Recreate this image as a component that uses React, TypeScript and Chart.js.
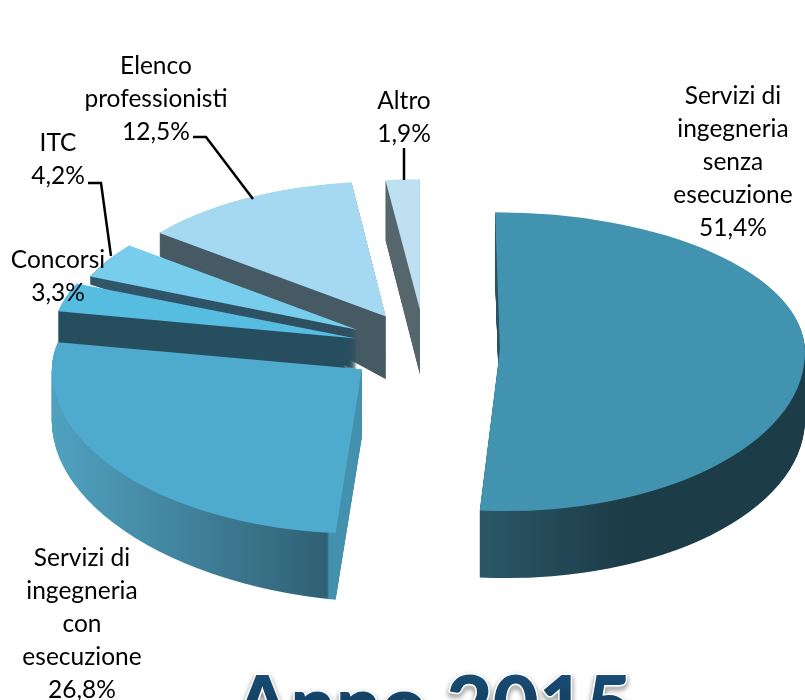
import React, { useEffect, useRef } from "react";
import { Chart, registerables } from "chart.js";

Chart.register(...registerables);

const categories: string[][] = [
  ["Servizi di", "ingegneria", "senza", "esecuzione"],
  ["Servizi di", "ingegneria", "con", "esecuzione"],
  ["Concorsi"],
  ["ITC"],
  ["Elenco", "professionisti"],
  ["Altro"],
];
const shares = [51.4, 26.8, 3.3, 4.2, 12.5, 1.9];
const titleText = "Anno 2015";

const topColors = ["#4293AF", "#4EABCD", "#56BCE0", "#77CDEB", "#A4D9F1", "#BEE0F1"];
// Explosion of each slice, radial pixels on the unsquashed pie.
const explode = [75, 79, 72, 79, 80, 85];
// Radius that each slice is shown at.
const sliceRadius = [305, 310, 304, 290, 288, 290];
// Perspective: far half and near half of the pie are flattened differently.
const squashFar = [0.45, 0.45, 0.46, 0.47, 0.47, 0.45];
const squashNear = 0.53;
const squashApex = 0.45;
// Horizontal lean of each slice, as the camera sees it.
const lean = [0.035, 0, 0, 0, 0, 0];
// Thickness [x0, depth0, x1, depth1] of each slice: it tapers with perspective.
const thickness = [
  [480, 67, 800, 67],
  [50, 52, 362, 68],
  [60, 32, 352, 32],
  [90, 8, 360, 40],
  [163, 24, 388, 63],
  [387, 60, 420, 65],
];
const sideStops: [number, string][][] = [
  [[478, "#2B5666"], [620, "#1C3C47"], [805, "#1C3C47"]],
  [[50, "#50A2C1"], [200, "#3F7F98"], [327, "#306073"], [329, "#4490AF"], [365, "#4490AF"]],
  [[60, "#264E5F"], [358, "#264E5F"]],
  [[90, "#31576A"], [360, "#2C4E60"]],
  [[163, "#455A63"], [388, "#455A63"]],
  [[387, "#55666C"], [420, "#55666C"]],
];
const drawOrder = [5, 4, 3, 2, 1, 0];

const labelFont = '24.5px "Lato"';
const lineHeight = 33;
// Label block: centre x and middle of the first line.
const labelAnchors = [
  [733, 96],
  [82, 558],
  [58, 260],
  [58, 143],
  [156, 66],
  [404, 101],
];
const leaderLines = [
  [[88, 183], [101, 183], [111, 256]],
  [[193, 137], [206, 137], [253, 199]],
  [[404, 148], [404, 180]],
];

const formatShare = (v: number) => v.toFixed(1).replace(".", ",") + "%";

const piePlugin = {
  id: "pie3d",
  beforeDatasetsDraw(chart: any) {
    const ctx: CanvasRenderingContext2D = chart.ctx;
    const arcs = chart.getDatasetMeta(0).data;
    for (const i of drawOrder) {
      const arc = arcs[i];
      const base = arc.options;
      const mid = (arc.startAngle + arc.endAngle) / 2;
      const d = base.offset || 0;
      const ax = arc.x + Math.cos(mid) * d;
      const py = arc.y + Math.sin(mid) * d * squashApex;
      const sx = sliceRadius[i] / arc.outerRadius;

      const place = (t: number, a: number, b: number, k: number, far: boolean) => {
        ctx.save();
        ctx.transform(1, t * b, 0, 1, 0, t * a);
        ctx.transform(1, 0, lean[i], 1, -lean[i] * py, 0);
        ctx.transform(sx, 0, 0, sx * k, ax - sx * arc.x, py - sx * k * arc.y);
        ctx.beginPath();
        if (far) ctx.rect(-3000, arc.y - 3000, 6000, 3004);
        else ctx.rect(-3000, arc.y, 6000, 3000);
        ctx.clip();
        arc.draw(ctx);
        ctx.restore();
      };

      // Side walls
      const [x0, d0, x1, d1] = thickness[i];
      const b = (d1 - d0) / (x1 - x0);
      const a = d0 - b * x0;
      const stops = sideStops[i];
      const toLocal = (X: number) => arc.x + (X - ax) / sx;
      const grad = ctx.createLinearGradient(toLocal(stops[0][0]), 0, toLocal(stops[stops.length - 1][0]), 0);
      const span = stops[stops.length - 1][0] - stops[0][0];
      stops.forEach(([x, c]) => grad.addColorStop((x - stops[0][0]) / span, c));
      arc.options = { ...base, offset: 0, backgroundColor: grad };
      const steps = Math.ceil(Math.max(d0, d1));
      for (let s = steps; s >= 1; s--) {
        place(s / steps, a, b, squashFar[i], true);
        place(s / steps, a, b, squashNear, false);
      }
      // Top face
      arc.options = { ...base, offset: 0 };
      place(0, 0, 0, squashFar[i], true);
      place(0, 0, 0, squashNear, false);
      arc.options = base;
    }
    return false;
  },
  afterDraw(chart: any) {
    const ctx: CanvasRenderingContext2D = chart.ctx;
    ctx.save();
    // Leader lines
    ctx.strokeStyle = "#000000";
    ctx.lineWidth = 2.5;
    for (const line of leaderLines) {
      ctx.beginPath();
      line.forEach(([x, y], n) => (n ? ctx.lineTo(x, y) : ctx.moveTo(x, y)));
      ctx.stroke();
    }
    // Data labels
    ctx.font = labelFont;
    ctx.fillStyle = "#000000";
    ctx.textAlign = "center";
    ctx.textBaseline = "middle";
    categories.forEach((lines, i) => {
      const [x, y] = labelAnchors[i];
      [...lines, formatShare(shares[i])].forEach((text, n) => {
        ctx.fillText(text, x, y + n * lineHeight);
      });
    });
    // Title, running off the bottom of the page
    ctx.font = '900 80px "Lato"';
    ctx.textBaseline = "alphabetic";
    ctx.lineJoin = "round";
    ctx.shadowColor = "rgba(60,60,60,0.8)";
    ctx.shadowBlur = 5;
    ctx.shadowOffsetY = 3;
    ctx.strokeStyle = "#FFFFFF";
    ctx.lineWidth = 3;
    ctx.strokeText(titleText, 433, 733);
    ctx.shadowColor = "transparent";
    const g = ctx.createLinearGradient(0, 668, 0, 732);
    g.addColorStop(0, "#1B4F78");
    g.addColorStop(1, "#0C3553");
    ctx.fillStyle = g;
    ctx.fillText(titleText, 433, 733);
    ctx.restore();
  },
};

export default function App() {
  const ref = useRef<HTMLCanvasElement>(null);
  useEffect(() => {
    const chart = new Chart(ref.current as HTMLCanvasElement, {
      type: "pie",
      data: {
        labels: categories.map((c) => c.join(" ")),
        datasets: [
          {
            data: shares,
            backgroundColor: topColors,
            borderWidth: 0,
            offset: explode,
            clip: false,
          } as any,
        ],
      },
      options: {
        responsive: false,
        animation: false,
        radius: 300,
        layout: { padding: { left: 45, bottom: 4 } },
        plugins: { legend: { display: false }, tooltip: { enabled: false } },
      } as any,
      plugins: [piePlugin],
    });
    return () => chart.destroy();
  }, []);
  return (
    <div style={{ position: "absolute", left: 0, top: 0, width: 805, height: 700, overflow: "hidden", background: "#fff" }}>
      <canvas ref={ref} width={805} height={700} style={{ display: "block" }} />
    </div>
  );
}
